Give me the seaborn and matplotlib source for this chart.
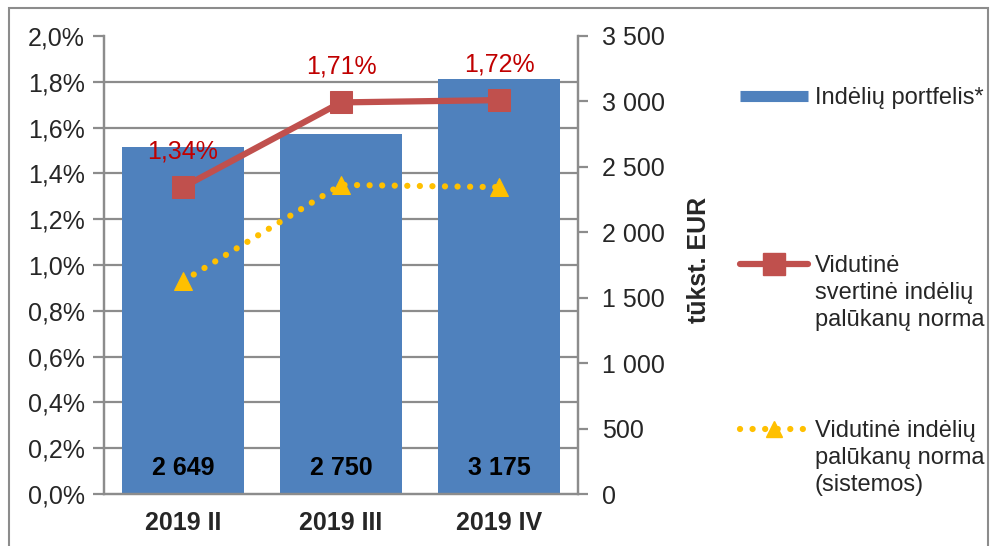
import matplotlib
matplotlib.use("Agg")
import matplotlib.pyplot as plt
from matplotlib.lines import Line2D
from matplotlib.patches import Rectangle
from matplotlib.ticker import FuncFormatter, MultipleLocator
import seaborn as sns
import pandas as pd
import numpy as np

# ---- data ----
categories = ["2019 II", "2019 III", "2019 IV"]
portfolio = [2649, 2750, 3175]          # tūkst. EUR (right axis)
weighted_rate = [1.34, 1.71, 1.72]      # % (left axis)
system_rate = [0.93, 1.35, 1.34]        # % (left axis)
portfolio_labels = ["2 649", "2 750", "3 175"]
rate_labels = ["1,34%", "1,71%", "1,72%"]

legend_bar = "Indėlių portfelis*"
legend_red = ["Vidutinė", "svertinė indėlių", "palūkanų norma"]
legend_yel = ["Vidutinė indėlių", "palūkanų norma", "(sistemos)"]
right_label = "tūkst. EUR"

BLUE = "#4F81BD"
RED = "#C0504D"
RED_TXT = "#C00000"
YEL = "#FFC000"
GRID = "#8C8C8C"

sns.set_theme(style="white")
plt.rcParams["font.family"] = ["Liberation Sans", "DejaVu Sans"]
FS = 18
LFS = 17

df = pd.DataFrame({"cat": categories, "portfolio": portfolio,
                   "weighted": weighted_rate, "system": system_rate})

fig = plt.figure(figsize=(9.91, 5.46), dpi=100)
fig.patch.set_facecolor("white")
ax = fig.add_axes([104/991, 52/546, 474/991, 458/546])
ax2 = ax.twinx()

# bars on right (tūkst. EUR) axis, drawn underneath
sns.barplot(data=df, x="cat", y="portfolio", ax=ax2, color=BLUE,
            width=0.77, saturation=1, edgecolor="none", zorder=2)
ax2.set_ylim(0, 3500)
ax2.yaxis.set_major_locator(MultipleLocator(500))
ax2.yaxis.set_minor_locator(MultipleLocator(350))
ax2.yaxis.set_major_formatter(FuncFormatter(lambda v, p: f"{int(v):,}".replace(",", " ")))
ax2.grid(False)
ax2.grid(True, which="minor", axis="y", color=GRID, lw=1.6, zorder=0)
ax2.set_axisbelow(True)
ax2.set_ylabel(right_label, fontsize=FS, fontweight="bold")
ax2.yaxis.set_label_coords(1.229, 0.51)
ax2.tick_params(axis="y", which="major", labelsize=FS, length=7, width=1.6,
                color=GRID, direction="out", pad=10)
ax2.tick_params(axis="y", which="minor", length=0)

for i, lab in enumerate(portfolio_labels):
    ax2.text(i, 200, lab, ha="center", va="center", fontsize=FS,
             fontweight="bold", color="black", zorder=5)

# lines on left (%) axis, drawn on top
ax.set_zorder(ax2.get_zorder() + 1)
ax.patch.set_visible(False)
sns.lineplot(data=df, x="cat", y="system", ax=ax, color=YEL, lw=4.5,
             linestyle=(0, (0.01, 2.0)), dash_capstyle="round", marker="^",
             markersize=13, markeredgecolor=YEL, sort=False, zorder=3)
sns.lineplot(data=df, x="cat", y="weighted", ax=ax, color=RED, lw=4.5,
             marker="s", markersize=16, markeredgecolor=RED, sort=False, zorder=4)
for i, (v, lab) in enumerate(zip(weighted_rate, rate_labels)):
    ax.annotate(lab, (i, v), xytext=(0, 26), textcoords="offset points",
                ha="center", va="center", fontsize=FS, color=RED_TXT)

ax.set_ylim(0, 2.0)
ax.yaxis.set_major_locator(MultipleLocator(0.2))
ax.yaxis.set_major_formatter(FuncFormatter(lambda v, p: f"{v:.1f}%".replace(".", ",")))
ax.set_xlim(-0.5, 2.5)
ax2.set_xlim(-0.5, 2.5)
ax.set_xticks(range(len(categories)))
ax.set_xticklabels(categories, fontsize=FS, fontweight="bold")
ax.set_xticks([-0.5, 0.5, 1.5, 2.5], minor=True)
ax.tick_params(axis="x", which="major", length=0, pad=12)
ax.tick_params(axis="x", which="minor", length=8, width=1.6, color=GRID, direction="out")
ax.tick_params(axis="y", labelsize=FS, length=8, width=1.6, color=GRID,
               direction="out", pad=6)
ax.set_xlabel("")
ax.set_ylabel("")
ax2.set_xlabel("")
ax.grid(False)

for a in (ax, ax2):
    for s in a.spines.values():
        s.set_color(GRID)
        s.set_linewidth(1.6)
    a.spines["top"].set_visible(False)

# legend (three groups)
h_bar = Line2D([], [], color=BLUE, lw=8, solid_capstyle="butt")
h_red = Line2D([], [], color=RED, lw=4.5, marker="s", markersize=16, markeredgecolor=RED)
h_yel = Line2D([], [], color=YEL, lw=4.5, linestyle=(0, (0.01, 2.0)),
               dash_capstyle="round", marker="^", markersize=12, markeredgecolor=YEL)
h_none = Line2D([], [], color="none")

common = dict(frameon=False, fontsize=LFS, handlelength=2.87, handletextpad=0.3,
              borderpad=0, borderaxespad=0, labelspacing=0.22, loc="upper left")
fig.legend([h_bar], [legend_bar], bbox_to_anchor=(740/991, 1 - 87/546), **common)
fig.legend([h_red, h_none, h_none], legend_red, bbox_to_anchor=(740/991, 1 - 255/546), **common)
fig.legend([h_yel, h_none, h_none], legend_yel, bbox_to_anchor=(740/991, 1 - 420/546), **common)

# outer frame
fig.add_artist(Rectangle((9/991, -0.05), (988 - 9)/991, 1.05 - 8/546,
                         transform=fig.transFigure, fill=False,
                         edgecolor="#8C8C8C", lw=1.5))

fig.savefig("out.png", dpi=100)
